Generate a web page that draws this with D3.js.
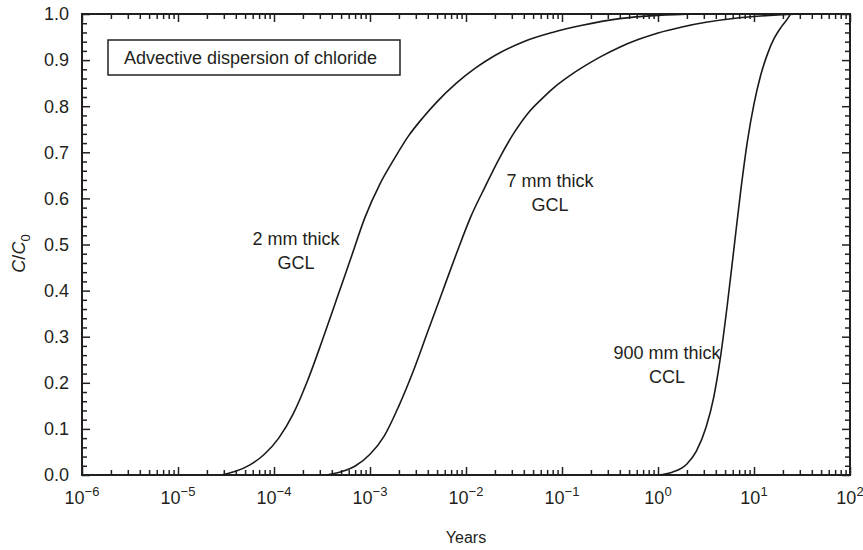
<!DOCTYPE html>
<html>
<head>
<meta charset="utf-8">
<script src="https://cdn.jsdelivr.net/npm/d3@7"></script>
<style>
  html, body { margin: 0; padding: 0; background: #fff; }
  svg { display: block; font-family: "Liberation Sans", Arial, Helvetica, sans-serif; }
</style>
</head>
<body>
<svg id="chart" width="863" height="550"></svg>
<script>
// Breakthrough curves: relative concentration C/C0 versus time (years)
const years2mm = [2.82e-5, 3.98e-5, 5.62e-5, 7.94e-5, 1.12e-4, 1.58e-4, 2.24e-4, 3.16e-4, 4.47e-4, 6.31e-4, 8.91e-4, 1.26e-3, 1.78e-3, 2.51e-3, 3.55e-3, 5.01e-3, 7.94e-3, 1.26e-2, 2.0e-2, 3.98e-2, 7.94e-2, 0.158, 0.398, 1.0, 2.7];
const conc2mm  = [0, 0.008, 0.022, 0.045, 0.08, 0.132, 0.205, 0.29, 0.38, 0.47, 0.56, 0.63, 0.685, 0.735, 0.775, 0.81, 0.85, 0.883, 0.91, 0.94, 0.96, 0.975, 0.99, 0.997, 1.0];

const years7mm = [3.55e-4, 5.01e-4, 7.08e-4, 1.0e-3, 1.41e-3, 2.0e-3, 2.82e-3, 3.98e-3, 5.62e-3, 7.94e-3, 1.12e-2, 1.58e-2, 2.24e-2, 3.16e-2, 4.47e-2, 6.31e-2, 8.91e-2, 0.126, 0.178, 0.251, 0.398, 0.631, 1.0, 1.78, 3.16, 7.08, 17.8, 31.6];
const conc7mm  = [0, 0.007, 0.02, 0.045, 0.085, 0.15, 0.225, 0.31, 0.395, 0.48, 0.56, 0.625, 0.688, 0.742, 0.786, 0.818, 0.846, 0.869, 0.889, 0.907, 0.928, 0.945, 0.959, 0.972, 0.982, 0.992, 0.998, 1.0];

const years900mm = [1.0, 1.41, 2.0, 2.51, 3.16, 3.8, 4.47, 5.25, 6.17, 7.24, 8.51, 10, 11.7, 13.8, 16.2, 19.1, 22.4, 24.0];
const conc900mm  = [0, 0.006, 0.024, 0.052, 0.103, 0.168, 0.255, 0.366, 0.49, 0.613, 0.722, 0.805, 0.866, 0.913, 0.947, 0.971, 0.99, 1.0];

const seriesNames = ["2 mm thick GCL", "7 mm thick GCL", "900 mm thick CCL"];
const decadeExponents = [-6, -5, -4, -3, -2, -1, 0, 1, 2];
const yTickLabels = ["0.0", "0.1", "0.2", "0.3", "0.4", "0.5", "0.6", "0.7", "0.8", "0.9", "1.0"];
const legendText = "Advective dispersion of chloride";

const svg = d3.select("#chart");
const plot = { left: 82, right: 850, top: 14, bottom: 475 };
const ink = "#231f20";

const x = d3.scaleLog().domain([1e-6, 1e2]).range([plot.left, plot.right]);
const y = d3.scaleLinear().domain([0, 1]).range([plot.bottom, plot.top]);

// tick values: decades (major) and 2..9 within each decade (minor)
const majorX = decadeExponents.map(e => Math.pow(10, e));
const minorX = [];
decadeExponents.slice(0, -1).forEach(e => {
  for (let k = 2; k <= 9; k++) minorX.push(k * Math.pow(10, e));
});
const majorY = d3.range(0, 11).map(i => i / 10);
const minorY = d3.range(0, 51).filter(i => i % 5 !== 0).map(i => i / 50);

function styleAxis(g) {
  g.select(".domain").remove();
  g.selectAll(".tick line").attr("stroke", ink).attr("stroke-width", 1.5);
  g.selectAll(".tick text").remove();
}

// inward ticks on all four sides
const axes = [
  [d3.axisBottom, x, `translate(0,${plot.bottom})`],
  [d3.axisTop, x, `translate(0,${plot.top})`],
  [d3.axisLeft, y, `translate(${plot.left},0)`],
  [d3.axisRight, y, `translate(${plot.right},0)`]
];
axes.forEach(([make, sc, tr]) => {
  const isX = sc === x;
  svg.append("g").attr("transform", tr)
    .call(make(sc).tickValues(isX ? minorX : minorY).tickSize(-5).tickFormat(""))
    .call(styleAxis);
  svg.append("g").attr("transform", tr)
    .call(make(sc).tickValues(isX ? majorX : majorY).tickSize(-8).tickFormat(""))
    .call(styleAxis);
});

// frame
svg.append("rect")
  .attr("x", plot.left).attr("y", plot.top)
  .attr("width", plot.right - plot.left).attr("height", plot.bottom - plot.top)
  .attr("fill", "none").attr("stroke", ink).attr("stroke-width", 2);

// y tick labels
svg.append("g").selectAll("text")
  .data(majorY)
  .join("text")
  .attr("x", plot.left - 13)
  .attr("y", d => y(d))
  .attr("dy", "0.35em")
  .attr("text-anchor", "end")
  .attr("font-size", 18)
  .attr("fill", ink)
  .text((d, i) => yTickLabels[i]);

// x tick labels as powers of ten
const xl = svg.append("g").selectAll("text")
  .data(decadeExponents)
  .join("text")
  .attr("x", d => x(Math.pow(10, d)))
  .attr("y", plot.bottom + 29)
  .attr("text-anchor", "middle")
  .attr("font-size", 18)
  .attr("fill", ink);
xl.append("tspan").text("10");
xl.append("tspan").attr("dy", -8).attr("font-size", 13)
  .text(d => (d < 0 ? "\u2212" + (-d) : String(d)));

// axis titles
svg.append("text")
  .attr("x", (plot.left + plot.right) / 2).attr("y", 543)
  .attr("text-anchor", "middle")
  .attr("font-size", 16).attr("fill", ink)
  .text("Years");

const yt = svg.append("text")
  .attr("transform", `translate(25,${(plot.top + plot.bottom) / 2 + 9}) rotate(-90)`)
  .attr("text-anchor", "middle")
  .attr("font-size", 18).attr("fill", ink);
yt.append("tspan").attr("font-style", "italic").text("C");
yt.append("tspan").text("/");
yt.append("tspan").attr("font-style", "italic").text("C");
yt.append("tspan").attr("dy", 5).attr("font-size", 13).text("0");

// legend box
svg.append("rect")
  .attr("x", 108).attr("y", 40).attr("width", 292).attr("height", 35)
  .attr("fill", "#fff").attr("stroke", ink).attr("stroke-width", 1.5);
svg.append("text")
  .attr("x", 124).attr("y", 64)
  .attr("font-size", 18).attr("fill", ink)
  .text(legendText);

// curves
const line = d3.line()
  .x(d => x(d[0]))
  .y(d => y(d[1]))
  .curve(d3.curveMonotoneX);

const series = [
  d3.zip(years2mm, conc2mm),
  d3.zip(years7mm, conc7mm),
  d3.zip(years900mm, conc900mm)
];
svg.append("g").selectAll("path")
  .data(series)
  .join("path")
  .attr("d", line)
  .attr("fill", "none")
  .attr("stroke", "#1a1a1a")
  .attr("stroke-width", 1.6);

// curve labels
const labelSpots = [
  { cx: 296, y: 245 },
  { cx: 550, y: 187 },
  { cx: 667, y: 359 }
];
const lab = svg.append("g").selectAll("text")
  .data(seriesNames)
  .join("text")
  .attr("text-anchor", "middle")
  .attr("font-size", 18)
  .attr("fill", ink);
lab.each(function (name, i) {
  const parts = name.split(" ");
  const t = d3.select(this);
  t.append("tspan").attr("x", labelSpots[i].cx).attr("y", labelSpots[i].y)
    .text(parts.slice(0, 3).join(" "));
  t.append("tspan").attr("x", labelSpots[i].cx).attr("y", labelSpots[i].y + 24)
    .text(parts[3]);
});
</script>
</body>
</html>
